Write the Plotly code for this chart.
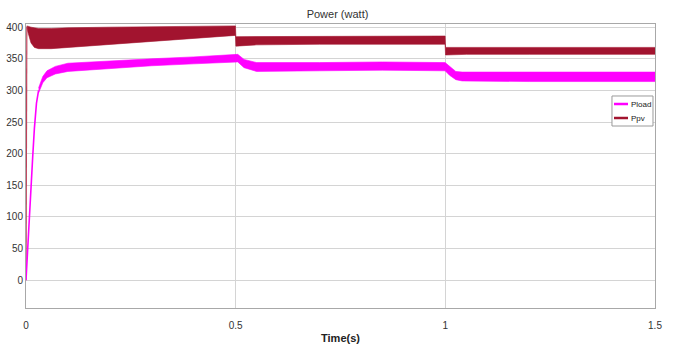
import plotly.graph_objects as go

# --- PV power: start-up edge and upper/lower envelope of the ripple band ---
pv_start_t = [0.0, 0.0, 0.002]
pv_start_p = [0.0, 0.0, 401.0]

pv_t = [0.002, 0.006, 0.012, 0.02, 0.03, 0.06, 0.1, 0.2, 0.3, 0.4, 0.4995,
        0.5005, 0.55, 0.7, 0.85, 0.9995, 1.0005, 1.05, 1.2, 1.35, 1.5]
pv_hi = [402, 401, 400, 399, 398, 398, 399, 400, 401, 402, 402,
         385, 385, 386, 386, 386, 368, 368, 368, 368, 368]
pv_lo = [398, 388, 375, 368, 366, 366, 368, 373, 378, 383, 387,
         370, 372, 373, 373, 373, 356, 357, 357, 357, 357]

# --- Load power: start-up rise and ripple band envelope ---
ld_start_t = [0.0, 0.003, 0.006, 0.009, 0.012, 0.016, 0.02, 0.025, 0.03]
ld_start_p = [0, 40, 80, 115, 150, 195, 240, 280, 300]

ld_t = [0.03, 0.04, 0.05, 0.07, 0.1, 0.2, 0.3, 0.4, 0.4995, 0.505, 0.52,
        0.55, 0.7, 0.85, 0.9995, 1.01, 1.025, 1.04, 1.2, 1.35, 1.5]
ld_hi = [304, 322, 331, 338, 343, 347, 350, 353, 356, 357, 349,
         344, 344, 345, 344, 338, 330, 329, 329, 329, 329]
ld_lo = [296, 312, 320, 326, 330, 335, 339, 342, 344, 345, 336,
         330, 331, 332, 331, 324, 317, 315, 314, 314, 314]

x_ticks = [0, 0.5, 1, 1.5]
x_tick_text = ["0", "0.5", "1", "1.5"]
y_ticks = [0, 50, 100, 150, 200, 250, 300, 350, 400]

legend_names = ["Pload", "Ppv"]

PV_COLOR = "#A2142F"
LD_COLOR = "#FF00FF"
FONT = "Liberation Sans Narrow, Liberation Sans, Arial, sans-serif"

fig = go.Figure()

# PV band
fig.add_trace(go.Scatter(x=pv_t, y=pv_lo, mode="lines",
                         line=dict(color=PV_COLOR, width=0.6),
                         showlegend=False, hoverinfo="skip"))
fig.add_trace(go.Scatter(x=pv_t, y=pv_hi, mode="lines", fill="tonexty",
                         fillcolor=PV_COLOR,
                         line=dict(color=PV_COLOR, width=0.6),
                         showlegend=False, hoverinfo="skip"))
fig.add_trace(go.Scatter(x=pv_start_t, y=pv_start_p, mode="lines",
                         line=dict(color="#C0405A", width=1.2),
                         showlegend=False))

# Load band
fig.add_trace(go.Scatter(x=ld_t, y=ld_lo, mode="lines",
                         line=dict(color=LD_COLOR, width=0.6),
                         showlegend=False, hoverinfo="skip"))
fig.add_trace(go.Scatter(x=ld_t, y=ld_hi, mode="lines", fill="tonexty",
                         fillcolor=LD_COLOR,
                         line=dict(color=LD_COLOR, width=0.6),
                         showlegend=False, hoverinfo="skip"))
fig.add_trace(go.Scatter(x=ld_start_t, y=ld_start_p, mode="lines",
                         line=dict(color=LD_COLOR, width=1.6),
                         showlegend=False))

# Compact legend box (paper coordinates)
lx0, lx1, ly0, ly1 = 0.9316, 0.9968, 0.6408, 0.7465
shapes = [dict(type="rect", xref="paper", yref="paper",
               x0=lx0, x1=lx1, y0=ly0, y1=ly1,
               line=dict(color="#9a9a9a", width=1), fillcolor="white",
               layer="above")]
annotations = []
for name, color, yy in zip(legend_names, [LD_COLOR, PV_COLOR], [0.7183, 0.669]):
    shapes.append(dict(type="line", xref="paper", yref="paper",
                       x0=0.9348, x1=0.9571, y0=yy, y1=yy,
                       line=dict(color=color, width=2.5), layer="above"))
    annotations.append(dict(text=name, xref="paper", yref="paper",
                            x=0.9586, y=yy, xanchor="left", yanchor="middle",
                            showarrow=False,
                            font=dict(family=FONT, size=8, color="#222222")))

fig.update_layout(
    width=675, height=344,
    margin=dict(l=26, r=20, t=24, b=36),
    paper_bgcolor="white", plot_bgcolor="white",
    font=dict(family=FONT, size=10, color="#333333"),
    title=dict(text="Power (watt)", x=0.5, xanchor="center",
               y=1 - 14 / 344, yanchor="middle",
               font=dict(family=FONT, size=11, color="#333333")),
    showlegend=False,
    shapes=shapes,
    annotations=annotations,
)

fig.update_xaxes(range=[0, 1.5], tickvals=x_ticks, ticktext=x_tick_text,
                 automargin=False,
                 showgrid=True, gridcolor="#d4d4d4", gridwidth=1,
                 showline=True, linecolor="#a8a8a8", linewidth=1, mirror=True,
                 zeroline=False, ticks="", ticklen=0, ticklabelstandoff=8,
                 tickfont=dict(family=FONT, size=10, color="#333333"),
                 title=dict(text="<b>Time(s)</b>", standoff=6,
                            font=dict(family=FONT, size=11, color="#222222")))
fig.update_yaxes(range=[-44, 405], tickvals=y_ticks,
                 automargin=False,
                 showgrid=True, gridcolor="#d4d4d4", gridwidth=1,
                 showline=True, linecolor="#a8a8a8", linewidth=1, mirror=True,
                 zeroline=False, ticks="", ticklen=0,
                 tickfont=dict(family=FONT, size=10, color="#333333"))

fig.write_html("out.html")
